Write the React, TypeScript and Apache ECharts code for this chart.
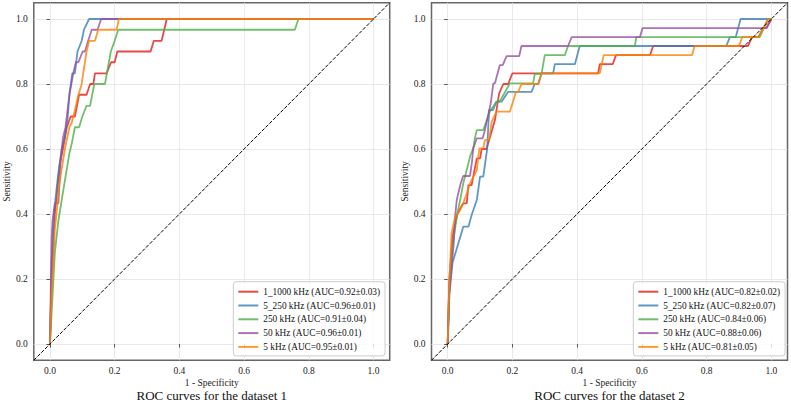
import React, { useEffect, useRef } from "react";
import * as echarts from "echarts";

// ROC curves (false positive rate, true positive rate) for dataset 1
const roc1_1k1000: [number, number][] = [
  [0, 0], [0.005, 0.2], [0.015, 0.4], [0.03, 0.55], [0.04, 0.6], [0.052, 0.667], [0.064, 0.7], [0.077, 0.7],
  [0.09, 0.767], [0.113, 0.767], [0.124, 0.8], [0.134, 0.8], [0.139, 0.833], [0.175, 0.833], [0.189, 0.867],
  [0.2, 0.867], [0.208, 0.9], [0.311, 0.9], [0.321, 0.933], [0.345, 0.933], [0.361, 1.0], [1, 1],
];
const roc1_5k250: [number, number][] = [
  [0, 0], [0.005, 0.25], [0.012, 0.4], [0.025, 0.52], [0.036, 0.6], [0.045, 0.633], [0.055, 0.7],
  [0.06, 0.767], [0.069, 0.833], [0.077, 0.833], [0.085, 0.9], [0.098, 0.933], [0.105, 0.967], [0.121, 1.0], [1, 1],
];
const roc1_250k: [number, number][] = [
  [0, 0], [0.008, 0.15], [0.015, 0.28], [0.026, 0.38], [0.043, 0.484], [0.06, 0.587], [0.068, 0.62],
  [0.077, 0.667], [0.09, 0.667], [0.1, 0.7], [0.113, 0.733], [0.124, 0.733], [0.137, 0.8], [0.17, 0.8],
  [0.188, 0.9], [0.2, 0.933], [0.211, 0.967], [0.757, 0.967], [0.768, 1.0], [1, 1],
];
const roc1_50k: [number, number][] = [
  [0, 0], [0.003, 0.2], [0.005, 0.33], [0.008, 0.38], [0.015, 0.433], [0.026, 0.433], [0.033, 0.567],
  [0.04, 0.633], [0.048, 0.667], [0.052, 0.7], [0.06, 0.767], [0.066, 0.8], [0.072, 0.833], [0.08, 0.867],
  [0.088, 0.867], [0.101, 0.9], [0.108, 0.9], [0.118, 0.933], [0.129, 0.967], [0.147, 0.967], [0.158, 1.0], [1, 1],
];
const roc1_5k: [number, number][] = [
  [0, 0], [0.005, 0.15], [0.015, 0.35], [0.03, 0.5], [0.046, 0.6], [0.06, 0.667], [0.067, 0.68], [0.077, 0.72],
  [0.088, 0.767], [0.098, 0.8], [0.101, 0.822], [0.113, 0.9], [0.121, 0.933], [0.139, 0.933], [0.149, 0.967],
  [0.206, 0.967], [0.213, 1.0], [1, 1],
];

// ROC curves for dataset 2
const roc2_1k1000: [number, number][] = [
  [0, 0], [0.005, 0.2], [0.015, 0.33], [0.03, 0.4], [0.048, 0.433], [0.059, 0.433], [0.064, 0.489],
  [0.074, 0.489], [0.08, 0.52], [0.09, 0.571], [0.1, 0.571], [0.105, 0.6], [0.12, 0.6], [0.146, 0.689],
  [0.159, 0.771], [0.172, 0.8], [0.187, 0.8], [0.2, 0.833], [0.465, 0.833], [0.47, 0.861], [0.51, 0.861],
  [0.52, 0.889], [0.625, 0.889], [0.635, 0.917], [0.928, 0.917], [0.94, 0.944], [0.96, 0.944],
  [0.975, 0.972], [0.985, 0.972], [1, 1],
];
const roc2_5k250: [number, number][] = [
  [0, 0], [0.005, 0.15], [0.015, 0.25], [0.03, 0.3], [0.045, 0.35], [0.048, 0.361], [0.064, 0.361],
  [0.074, 0.397], [0.09, 0.443], [0.1, 0.515], [0.11, 0.515], [0.122, 0.6], [0.128, 0.72], [0.14, 0.72],
  [0.151, 0.746], [0.167, 0.746], [0.187, 0.776], [0.259, 0.776], [0.269, 0.8], [0.28, 0.8], [0.29, 0.833],
  [0.326, 0.833], [0.331, 0.861], [0.393, 0.861], [0.408, 0.917], [0.861, 0.917], [0.872, 0.944],
  [0.89, 0.944], [0.905, 1.0], [1, 1],
];
const roc2_250k: [number, number][] = [
  [0, 0], [0.005, 0.15], [0.015, 0.3], [0.028, 0.392], [0.04, 0.45], [0.048, 0.494], [0.06, 0.54],
  [0.07, 0.58], [0.079, 0.602], [0.084, 0.633], [0.09, 0.658], [0.11, 0.658], [0.13, 0.715], [0.151, 0.746],
  [0.161, 0.746], [0.192, 0.802], [0.264, 0.802], [0.269, 0.831], [0.29, 0.831], [0.3, 0.889], [0.362, 0.889],
  [0.372, 0.917], [0.578, 0.917], [0.583, 0.944], [0.964, 0.944], [0.99, 1.0], [1, 1],
];
const roc2_50k: [number, number][] = [
  [0, 0], [0.004, 0.15], [0.009, 0.207], [0.018, 0.3], [0.023, 0.392], [0.028, 0.443], [0.04, 0.494],
  [0.048, 0.517], [0.069, 0.517], [0.075, 0.56], [0.079, 0.602], [0.09, 0.633], [0.108, 0.633],
  [0.115, 0.658], [0.133, 0.74], [0.141, 0.802], [0.146, 0.802], [0.161, 0.858], [0.17, 0.858],
  [0.182, 0.886], [0.221, 0.886], [0.228, 0.917], [0.372, 0.917], [0.383, 0.944], [0.594, 0.944],
  [0.602, 0.972], [0.985, 0.972], [1, 1],
];
const roc2_5k: [number, number][] = [
  [0, 0], [0.005, 0.187], [0.012, 0.341], [0.023, 0.392], [0.038, 0.412], [0.048, 0.433], [0.059, 0.464],
  [0.069, 0.494], [0.09, 0.535], [0.094, 0.571], [0.098, 0.602], [0.11, 0.602], [0.115, 0.628],
  [0.128, 0.628], [0.136, 0.684], [0.151, 0.715], [0.192, 0.715], [0.202, 0.746], [0.211, 0.776],
  [0.218, 0.776], [0.228, 0.8], [0.28, 0.8], [0.29, 0.833], [0.47, 0.833], [0.482, 0.889], [0.755, 0.889],
  [0.763, 0.917], [0.9, 0.917], [0.91, 0.944], [0.96, 0.944], [0.99, 1.0], [1, 1],
];

const chance: [number, number][] = [[-0.05, -0.05], [1.05, 1.05]];

const names1 = [
  "1_1000 kHz (AUC=0.92±0.03)",
  "5_250 kHz (AUC=0.96±0.01)",
  "250 kHz (AUC=0.91±0.04)",
  "50 kHz (AUC=0.96±0.01)",
  "5 kHz (AUC=0.95±0.01)",
];
const names2 = [
  "1_1000 kHz (AUC=0.82±0.02)",
  "5_250 kHz (AUC=0.82±0.07)",
  "250 kHz (AUC=0.84±0.06)",
  "50 kHz (AUC=0.88±0.06)",
  "5 kHz (AUC=0.81±0.05)",
];
const titles = ["ROC curves for the dataset 1", "ROC curves for the dataset 2"];
const tickValues = [0, 0.2, 0.4, 0.6, 0.8, 1.0];
const xLabel = "1 - Specificity";
const yLabel = "Sensitivity";

const colors = [
  "rgba(228,26,28,0.8)",
  "rgba(55,126,184,0.8)",
  "rgba(77,175,74,0.8)",
  "rgba(152,78,163,0.8)",
  "rgba(255,127,0,0.8)",
];

const FONT = "'Liberation Serif', 'Times New Roman', serif";

export default function App() {
  const ref = useRef<HTMLDivElement>(null);

  useEffect(() => {
    if (!ref.current) return;
    const chart = echarts.init(ref.current, undefined, { renderer: "svg" });

    const grids = [
      { left: 33.8, top: 2.75, width: 355.9, height: 357.5 },
      { left: 431.5, top: 2.75, width: 356, height: 357.5 },
    ];
    const centers = grids.map((g) => g.left + g.width / 2);

    const tickStyle = {
      show: true,
      customValues: tickValues,
      length: 3.5,
      lineStyle: { color: "#333", width: 0.8 },
    };
    const labelStyle = {
      customValues: tickValues,
      formatter: (v: number) => v.toFixed(1),
      fontFamily: FONT,
      fontSize: 9.5,
      color: "#222",
      margin: 6,
    };
    const gridLine = { show: true, lineStyle: { color: "#e3e3e3", width: 0.8 } };

    const makeX = (i: number) => ({
      type: "value",
      gridIndex: i,
      min: -0.05,
      max: 1.05,
      axisLine: { show: false },
      axisTick: tickStyle,
      axisLabel: labelStyle,
      splitLine: gridLine,
      name: xLabel,
      nameLocation: "middle",
      nameGap: 17.5,
      nameMoveOverlap: false,
      nameTextStyle: { fontFamily: FONT, fontSize: 9.5, color: "#222", lineHeight: 10 },
    });
    const makeY = (i: number) => ({
      type: "value",
      gridIndex: i,
      min: -0.05,
      max: 1.05,
      axisLine: { show: false },
      axisTick: tickStyle,
      axisLabel: labelStyle,
      splitLine: gridLine,
      name: yLabel,
      nameLocation: "middle",
      nameGap: 22,
      nameTextStyle: { fontFamily: FONT, fontSize: 9.5, color: "#222" },
    });

    const curves = [
      [roc1_1k1000, roc1_5k250, roc1_250k, roc1_50k, roc1_5k],
      [roc2_1k1000, roc2_5k250, roc2_250k, roc2_50k, roc2_5k],
    ];
    const names = [names1, names2];

    const series: any[] = [];
    curves.forEach((set, gi) => {
      set.forEach((data, k) => {
        series.push({
          type: "line",
          name: names[gi][k],
          xAxisIndex: gi,
          yAxisIndex: gi,
          data,
          symbol: "none",
          showSymbol: false,
          color: colors[k],
          itemStyle: { color: colors[k] },
          lineStyle: { color: colors[k], width: 1.8 },
          z: 2,
        });
      });
      // chance diagonal, corner to corner
      series.push({
        type: "line",
        name: "chance" + gi,
        xAxisIndex: gi,
        yAxisIndex: gi,
        data: chance,
        symbol: "none",
        showSymbol: false,
        lineStyle: { color: "#000", width: 1, type: [3.7, 1.6] },
        z: 3,
      });
    });

    const legendBase = {
      orient: "vertical",
      icon: "rect",
      itemWidth: 20,
      itemHeight: 2,
      itemGap: 1.8,
      padding: [4, 5, 3, 5],
      backgroundColor: "rgba(255,255,255,0.8)",
      borderColor: "#cccccc",
      borderWidth: 1,
      borderRadius: 3,
      textStyle: { fontFamily: FONT, fontSize: 9.3, color: "#111", lineHeight: 12 },
      selectedMode: false,
    };

    chart.setOption({
      animation: false,
      backgroundColor: "#fff",
      title: titles.map((t, i) => ({
        text: t,
        left: centers[i],
        top: 388.8,
        textAlign: "center",
        padding: 0,
        textStyle: { fontFamily: FONT, fontSize: 13, fontWeight: "normal", color: "#111", lineHeight: 13 },
      })),
      grid: grids.map((g) => ({
        ...g,
        show: true,
        borderColor: "#666",
        borderWidth: 1.5,
        backgroundColor: "transparent",
        outerBoundsMode: "none",
      })),
      xAxis: [makeX(0), makeX(1)],
      yAxis: [makeY(0), makeY(1)],
      legend: [
        { ...legendBase, left: 233.3, top: 281.7, data: names1 },
        { ...legendBase, left: 633.3, top: 281.7, data: names2 },
      ],
      series,
    });

    return () => chart.dispose();
  }, []);

  return (
    <div
      ref={ref}
      style={{ position: "absolute", left: 0, top: 0, width: 791, height: 410, background: "#fff" }}
    />
  );
}
